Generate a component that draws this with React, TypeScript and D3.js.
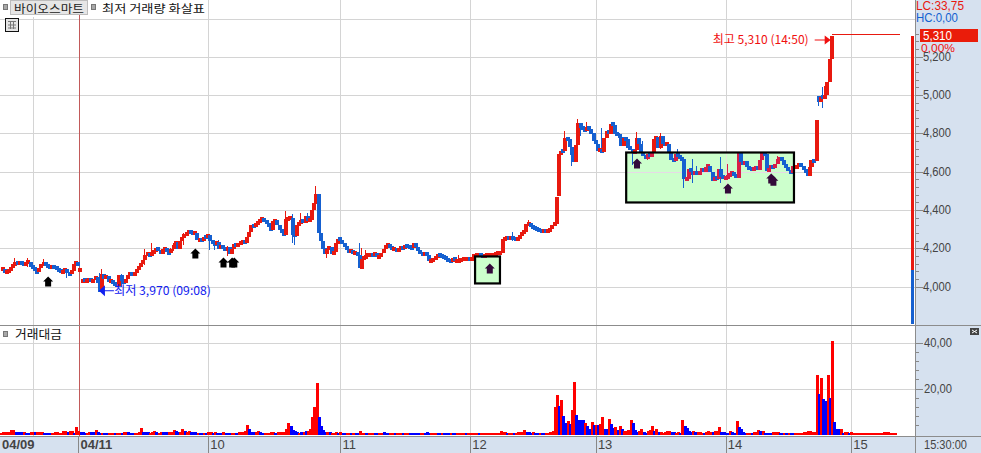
import React from "react";
import * as d3 from "d3";

const W = 981, H = 453;

// closing prices, one list per trading day
const closes0904 = [
  4090,4075,4080,4085,4100,4115,4125,4120,4125,4120,4110,4125,4130,4105,4100,4080,4075,4095,4115,4120,
  4110,4105,4100,4105,4100,4090,4085,4075,4080,4090,4070,4065,4085,4120,4125,4110];
const closes1104 = [
  4084,4040,4030,4030,4040,4025,4035,4050,4020,3975,4065,4040,4055,4025,4035,4015,4010,4005,4060,4030,
  4020,4040,4060,4075,4060,4070,4090,4100,4120,4140,4165,4170,4160,4180,4185,4200,4190,4170,4195,4200,
  4180,4175,4198,4215,4235,4200,4240,4255,4270,4280,4290,4280,4275,4280,4245,4245,4240,4260,4255,4270];
const closesDay10 = [
  4240,4225,4220,4235,4200,4210,4205,4190,4205,4170,4195,4220,4210,4225,4225,4235,4230,4260,4285,4320,
  4315,4325,4335,4350,4355,4345,4330,4310,4295,4340,4345,4320,4295,4280,4270,4355,4355,4360,4270,4265,
  4320,4330,4345,4335,4370,4345,4350,4400,4435,4485,4280,4240,4200,4170,4195,4205,4170,4180,4225,4250,4245];
const closesDay11 = [
  4225,4205,4195,4180,4190,4170,4175,4165,4095,4145,4150,4160,4165,4165,4160,4175,4155,4155,4175,4195,
  4215,4215,4205,4195,4195,4190,4195,4205,4195,4215,4210,4205,4200,4225,4205,4190,4175,4165,4170,4165,
  4135,4135,4140,4155,4165,4160,4155,4150,4145,4135,4130,4150,4135,4135,4135,4145,4145,4145,4145,4140];
const closesDay12 = [
  4150,4165,4165,4165,4160,4155,4160,4165,4165,4165,4165,4170,4175,4175,4250,4250,4260,4250,4255,4250,
  4245,4250,4265,4280,4285,4325,4325,4315,4310,4305,4300,4295,4290,4290,4285,4295,4300,4320,4330,4470,
  4690,4710,4705,4775,4770,4730,4690,4650,4740,4855,4830,4825,4815,4830,4825,4800,4760,4745];
const closesDay13 = [
  4710,4715,4700,4775,4810,4800,4850,4845,4800,4790,4780,4735,4775,4770,4725,4720,4700,4710,4775,4745,
  4700,4685,4665,4690,4680,4695,4770,4780,4720,4785,4745,4740,4745,4700,4665,4655,4690,4685,4670,4665,
  4560,4565,4615,4600,4590,4600,4590,4600,4620,4600,4625,4630,4600,4555,4570,4565,4615,4575,4565,4570];
const closesDay14 = [
  4575,4590,4600,4580,4570,4700,4655,4640,4655,4625,4615,4610,4615,4625,4610,4660,4695,4690,4600,4620,
  4625,4620,4640,4665,4670,4660,4635,4625,4605,4595,4630,4620,4625,4640,4630,4610,4595,4580,4625,4660,
  4655,4870,4965,4990,4985,5000,5070,5190,5310];
const closesLimitUp = [
  5310,5310,5310,5310,5310,5310,5310,5310,5310,5310,5310,5310,5310,5310,5310,5310,
  5310,5310,5310,5310,5310,5310,5310,5310,5310,5310,5310,5310,5310,5310,5310];
const closes = [...closes0904, ...closes1104, ...closesDay10, ...closesDay11, ...closesDay12, ...closesDay13, ...closesDay14, ...closesLimitUp];

// opening gaps: candle index and its open (all others open at the previous close)
const gapIndex = [36, 37, 377];
const gapOpen = [4084, 4020, 4995];

// wicks: candle index, high, low
const wickIndex = [6,12,19,30,45,46,55,66,69,78,79,84,96,98,100,104,131,134,135,138,141,145,150,165,166,168,198,211,236,243,260,263,266,267,270,277,282,285,291,293,296,298,304,312,315,317,319,321,332,335,358,373,377,379,380,383];
const wickHigh = [4150,4150,4145,4095,4070,4090,4065,4195,4225,4200,4225,4280,4260,4230,4245,4210,4397,4380,4318,4385,4385,4527,4195,4225,4200,4190,4135,4165,4285,4345,4810,4690,4877,4830,4860,4830,4860,4800,4700,4805,4760,4690,4800,4720,4665,4615,4665,4630,4675,4640,4680,4660,4995,5040,5045,5310];
const wickLow = [4115,4100,4105,4047,3970,4020,4000,4110,4160,4165,4185,4215,4190,4190,4195,4160,4270,4225,4215,4330,4335,4480,4151,4095,4125,4140,4125,4135,4240,4315,4770,4630,4825,4785,4815,4700,4800,4735,4635,4710,4685,4660,4720,4685,4517,4553,4540,4590,4540,4570,4665,4580,4945,4935,4985,5165];

// traded value; negative = blue bar, positive = red bar
const vol0904 = [.4,.7,.7,.8,.8,1.8,1.8,-.7,-.7,-.7,-.7,.7,-.4,-.4,.7,.7,-.7,.9,.9,.9,-.3,-.4,-.4,-.4,.4,.9,.9,.3,.3,1.3,1.3,-.9,1.3,1.3,-.4,3];
const vol1104 = [
  1.3,-1,-.9,-.4,.3,.7,-.7,-.7,1.6,-1,-.4,.4,-.4,-.4,.4,.4,.4,-.3,.4,.4,
  -.3,.9,.9,-.7,-.4,-.3,.3,.3,.9,2.6,-.9,-.9,-.9,.3,.9,1.3,-.7,.4,.7,-.7,
  -.7,-.7,.9,1,1.6,-1.2,-.7,1,2.3,-1.4,.9,1.2,-.9,-.7,-.7,.4,-.3,-.4,.3,-.3];
const volDay10 = [
  .9,.9,-.5,.7,-.3,-.3,-.3,.7,-.4,-.4,-.4,.3,.4,-.3,.7,.7,.7,1.3,3.9,-2.2,
  -.7,-.7,.7,1.5,-.9,-.4,.5,.4,.4,.7,.7,-.5,.7,.7,.7,.7,2.1,4.8,-3.4,-1.7,
  -1.3,-.9,.4,-1,.7,-1.5,1.5,2.1,7.4,11.8,22.4,-7.6,-3.7,-1.9,-1,1,-.7,.5,.4,.7,-.4];
const volDay11 = [
  .7,-.4,-.3,.6,.4,-.3,.5,-.6,-.5,1.2,.6,.4,-.3,.3,.5,.4,-.3,-.3,.5,.6,
  -.7,-.5,-.3,.4,.4,-.3,.3,.5,.5,-.4,.3,.4,-.3,-.5,-.6,-.4,-.3,.4,.4,-.3,
  -.7,-.4,.4,.5,.4,-.3,-.3,.3,-.3,-.3,-.3,.3,-.3,-.3,.3,.3,.3,.3,-.3,.3];
const volDay12 = [
  .4,.3,.4,.3,-.3,.3,.3,.3,.3,.4,.3,.4,.4,.3,1.4,.8,1,-.6,.6,.5,
  -.4,.6,.9,1,.7,1.6,-1,-.7,-.4,.7,-.5,-.5,.5,-.4,-.4,.5,.5,.7,1.2,11.8,
  17,-12.5,15,-8,-5,5.6,-4.5,10.7,23,-8.5,-6.3,-6,-6,4.9,-3.4,-2,5.4,-3.8];
const volDay13 = [
  4,-3.8,4.6,7.5,-2.4,-2,6.8,-4.6,-2.6,3,-1.6,3.7,-2.2,1.5,1.5,1.9,6.3,-4.9,-1.9,-.9,
  1.2,2.4,-.9,-.6,1.2,1.8,3.7,-1.5,2.4,-.7,1,.5,.7,1.2,1.5,-1,-1,.4,.9,-.5,
  6.3,-3.7,-2.6,-1.5,-.7,1.5,-.7,1,1,.4,-.6,.7,1.5,.9,-1,1.5,1.5,3.2,-1,-1];
const volDay14 = [
  -.6,-.4,1.5,-1,-.5,5.9,-3.2,-2.4,-1,-.6,.6,.6,-.3,.7,.7,1.9,-1.5,1.4,-.6,-.6,
  -.6,-.3,.7,.7,1,-.6,-.6,.6,-.5,.5,-.6,-.6,.3,.6,.6,.6,1,1,1.5,1.5,
  1,1,26,-17.8,24.8,-15.6,-14.7,26,-16,40.7];
const volLimitUp = [-5.4,-2.4,-2.4,2.4,-.5,1,.7,-.5,1,.4,.4,.3,.3,.6,.4,.3,.3,.6,.4,.3,.5,.3,.3,.7,.7,.7,.3,.3,.6];
const volumes = [...vol0904, ...vol1104, ...volDay10, ...volDay11, ...volDay12, ...volDay13, ...volDay14, ...volLimitUp];

const gridIndex = [15, 36, 96, 157, 217, 275, 335, 393];
const dateIndex = [0, 36, 96, 157, 217, 275, 335, 393];
const dateLabels = ["04/09", "04/11", "10", "11", "12", "13", "14", "15"];
const priceLabels = [4000, 4200, 4400, 4600, 4800, 5000, 5200];
const priceGrid = [4000, 4200, 4400, 4600, 4800, 5000, 5200, 5400];
const volumeLabels = [20, 40];
const rangeBar = [5310, 4084, 3802];

// arrows: candle index, price
const arrowIndex = [22, 90, 103, 107, 108, 226, 294, 336, 356, 357];
const arrowPrice = [4026, 4172, 4125, 4125, 4125, 4094, 4642, 4512, 4564, 4553];
// highlighted boxes: index range, price range
const boxIndex = [[219.2, 230.7], [289, 366.5]];
const boxPrice = [[4157, 4016], [4700, 4439]];

const RED = "#E8190F", BLUE = "#1560D0", GRID = "#D4D4D4", PANEL = "#D6E1EF", LINE = "#8C8C8C";
const KR = "'Noto Sans CJK KR', sans-serif";
const NUM = "'Liberation Sans', sans-serif";

const x = d3.scaleLinear().domain([0, 100]).range([0.5, 217]);
const y = d3.scaleLinear().domain([4000, 5400]).range([286.5, 18.5]);
const yv = d3.scaleLinear().domain([0, 40]).range([434, 343]);

const gaps = new Map(gapIndex.map((g, i) => [g, gapOpen[i]]));
const opens = closes.map((c, i) => gaps.get(i) ?? (i === 0 ? c : closes[i - 1]));

function Candles({ red, blue }: { red: string; blue: string }) {
  return (
    <g>
      {wickIndex.map((w, i) => {
        const up = closes[w] >= opens[w];
        return <line key={i} x1={Math.round(x(w)) + 1.5} x2={Math.round(x(w)) + 1.5} y1={y(wickHigh[i])} y2={y(wickLow[i])} stroke={up ? red : blue} strokeWidth={1} />;
      })}
      {closes.map((c, i) => {
        const o = opens[i];
        const top = Math.min(y(c), y(o));
        const raw = Math.abs(y(c) - y(o));
        const flat = c === o && c === 5310;
        const h = flat ? 1 : Math.max(4, Math.round(raw));
        const yTop = raw < 4 ? Math.round(top + raw / 2 - 2) : Math.round(top);
        return <rect key={i} x={Math.round(x(i))} y={yTop} width={flat ? 3 : 4} height={h} fill={c >= o ? red : blue} />;
      })}
    </g>
  );
}

function Arrow({ cx, cy, fill }: { cx: number; cy: number; fill: string }) {
  const p = d3.path();
  p.moveTo(cx, cy - 5); p.lineTo(cx + 5, cy); p.lineTo(cx + 3, cy); p.lineTo(cx + 3, cy + 5);
  p.lineTo(cx - 3, cy + 5); p.lineTo(cx - 3, cy); p.lineTo(cx - 5, cy); p.closePath();
  return <path d={p.toString()} fill={fill} />;
}

function HeadIcon({ px, py }: { px: number; py: number }) {
  return <rect x={px + 0.5} y={py + 0.5} width={4} height={5} fill="#A8A8A8" stroke="#777" />;
}

export default function App() {
  const boxes = boxIndex.map((b, i) => ({
    x: x(b[0]), y: y(boxPrice[i][0]), w: x(b[1]) - x(b[0]), h: y(boxPrice[i][1]) - y(boxPrice[i][0]),
  }));
  const minorPrice = d3.range(4000, 5321, 40);
  const minorVol = d3.range(4, 41, 4);
  const hiX = x(closes.indexOf(5310));
  const loX = x(45);
  const bars = volumes.map((v, i) => ({ v, i }));
  return (
    <svg width={W} height={H} style={{ position: "absolute", left: 0, top: 0, background: "#fff" }} fontFamily={NUM}>
      <defs>
        <clipPath id="boxes">
          {boxes.map((b, i) => <rect key={i} x={b.x} y={b.y} width={b.w} height={b.h} />)}
        </clipPath>
      </defs>

      {/* grid */}
      <g shapeRendering="crispEdges">
        {priceGrid.map(p => <line key={p} x1={0} x2={915} y1={Math.round(y(p)) + 0.5} y2={Math.round(y(p)) + 0.5} stroke={GRID} />)}
        {volumeLabels.map(v => <line key={v} x1={0} x2={915} y1={Math.round(yv(v)) + 0.5} y2={Math.round(yv(v)) + 0.5} stroke={GRID} />)}
        {gridIndex.map(g => g === 36 ? null : <line key={g} x1={Math.round(x(g)) + 0.5} x2={Math.round(x(g)) + 0.5} y1={g === 15 ? 17 : 0} y2={436} stroke={GRID} />)}
        <line x1={79.5} x2={79.5} y1={15} y2={436} stroke="#C25A5A" />
      </g>

      {/* highlighted boxes, underlay */}
      {boxes.map((b, i) => <rect key={i} x={b.x} y={b.y} width={b.w} height={b.h} fill="#CCFFCC" />)}
      <g clipPath="url(#boxes)" shapeRendering="crispEdges">
        {priceGrid.map(p => <line key={p} x1={0} x2={915} y1={Math.round(y(p)) + 0.5} y2={Math.round(y(p)) + 0.5} stroke="#E6DAE6" />)}
        {gridIndex.map(g => <line key={g} x1={Math.round(x(g)) + 0.5} x2={Math.round(x(g)) + 0.5} y1={0} y2={325} stroke="#E6E6DA" />)}
      </g>

      {/* candles */}
      <g shapeRendering="crispEdges">
        <Candles red={RED} blue={BLUE} />
        <g clipPath="url(#boxes)"><Candles red="#D81E46" blue={BLUE} /></g>
      </g>

      {/* arrows */}
      {arrowIndex.map((a, i) => (
        <Arrow key={i} cx={x(a)} cy={y(arrowPrice[i])} fill={i >= 5 ? "#330A3A" : "#000"} />
      ))}
      {boxes.map((b, i) => <rect key={i} x={b.x} y={b.y} width={b.w} height={b.h} fill="none" stroke="#000" strokeWidth={2.2} />)}

      {/* range bar */}
      <g shapeRendering="crispEdges">
        <rect x={911} y={y(rangeBar[0])} width={3} height={y(rangeBar[1]) - y(rangeBar[0])} fill={RED} />
        <rect x={911} y={y(rangeBar[1])} width={3} height={y(rangeBar[2]) - y(rangeBar[1])} fill={BLUE} />
      </g>

      {/* high annotation */}
      <text x={hiX - 117} y={43.5} fontFamily={KR} fontSize={12} fill="#F01010" textLength={96} lengthAdjust="spacingAndGlyphs">최고 5,310 (14:50)</text>
      <line x1={hiX - 15} x2={hiX - 2} y1={40} y2={40} stroke="#F01010" strokeWidth={1} />
      <path d={`M${hiX + 1},40 l-6,-4.5 v9 z`} fill="#F01010" />

      {/* low annotation */}
      <line x1={loX + 1} x2={loX + 16} y1={y(3970) - 1.5} y2={y(3970) - 1.5} stroke="#1020F0" strokeWidth={1} />
      <path d={`M${loX + 1},${y(3970) - 1.5} l6,-5.5 v11 z`} fill="#1020F0" />
      <text x={loX + 16} y={295} fontFamily={KR} fontSize={12} fill="#1020F0" textLength={97} lengthAdjust="spacingAndGlyphs">최저 3,970 (09:08)</text>

      {/* volume bars: drawn in order so neighbours stay visible */}
      <g shapeRendering="crispEdges">
        {bars.map(({ v, i }) => {
          const top = yv(Math.abs(v));
          return <rect key={i} x={Math.round(x(i)) - 1} y={top} width={3} height={Math.max(1, 434.5 - top)} fill={v > 0 ? "#FF0000" : "#0000FF"} />;
        })}
      </g>

      {/* headers */}
      <g>
        <rect x={0} y={0} width={205} height={15} fill="#fff" />
        <HeadIcon px={3} py={4} />
        <rect x={10.5} y={0.5} width={77} height={14} fill="#E6E6E6" stroke="#BDBDBD" />
        <text x={14} y={13.4} fontFamily={KR} fontSize={11.5} fill="#222" textLength={70} lengthAdjust="spacingAndGlyphs">바이오스마트</text>
        <HeadIcon px={91} py={4} />
        <text x={102} y={13.4} fontFamily={KR} fontSize={11.5} fill="#111" textLength={103} lengthAdjust="spacingAndGlyphs">최저 거래량 화살표</text>
        <rect x={5.5} y={18.5} width={13} height={13} fill="#E4E4E4" stroke="#111" />
        <path d="M8,21.5H16M8,25H16M8,28H16M10.5,21V29M13.5,21V29" stroke="#777" fill="none" />
        <HeadIcon px={3} py={331} />
        <text x={15} y={339} fontFamily={KR} fontSize={12.5} fill="#111" textLength={47} lengthAdjust="spacingAndGlyphs">거래대금</text>
      </g>

      {/* right and bottom panels */}
      <g shapeRendering="crispEdges">
        <rect x={915} y={0} width={66} height={H} fill={PANEL} />
        <rect x={0} y={436} width={W} height={17} fill={PANEL} />
        <line x1={915.5} x2={915.5} y1={0} y2={H} stroke={LINE} />
        <line x1={0} x2={W} y1={436.5} y2={436.5} stroke={LINE} />
        <line x1={0} x2={W} y1={325.5} y2={325.5} stroke={LINE} />
        {minorPrice.map(p => (
          <line key={p} x1={916} x2={p % 200 === 0 ? 923 : 919} y1={Math.round(y(p)) + 0.5} y2={Math.round(y(p)) + 0.5} stroke="#888" />
        ))}
        {minorVol.map(v => (
          <line key={v} x1={916} x2={v % 20 === 0 ? 923 : 919} y1={Math.round(yv(v)) + 0.5} y2={Math.round(yv(v)) + 0.5} stroke="#888" />
        ))}
        {dateIndex.slice(1).map(d => <line key={d} x1={Math.round(x(d)) + 0.5} x2={Math.round(x(d)) + 0.5} y1={437} y2={H} stroke="#888" />)}
      </g>

      {priceLabels.map(p => (
        <text key={p} x={923} y={y(p) + 4} fontSize={12} fill="#444" textLength={28} lengthAdjust="spacingAndGlyphs">{d3.format(",")(p)}</text>
      ))}
      {volumeLabels.map(v => (
        <text key={v} x={924} y={yv(v) + 4} fontSize={12} fill="#444" textLength={28} lengthAdjust="spacingAndGlyphs">{`${v},00`}</text>
      ))}
      <text x={924} y={449} fontSize={13} fill="#444" textLength={43} lengthAdjust="spacingAndGlyphs">15:30:00</text>
      {dateLabels.map((d, i) => (
        <text key={d} x={i === 0 ? 2 : x(dateIndex[i]) + 2} y={449} fontSize={13} fontWeight={i < 2 ? 700 : 400} fill="#444">{d}</text>
      ))}

      {/* top right read-outs */}
      <text x={916} y={10} fontSize={12} fill="#E8190F" textLength={48} lengthAdjust="spacingAndGlyphs">LC:33,75</text>
      <text x={916} y={22} fontSize={12} fill="#1060D0" textLength={42} lengthAdjust="spacingAndGlyphs">HC:0,00</text>
      <rect x={920} y={29} width={58} height={13} fill="#EA1C0A" />
      <text x={923} y={40} fontSize={12} fill="#fff" textLength={29} lengthAdjust="spacingAndGlyphs">5,310</text>
      <rect x={920} y={42} width={40} height={10} fill={PANEL} />
      <text x={921} y={51.5} fontSize={11.5} fill="#F01010" textLength={34} lengthAdjust="spacingAndGlyphs">0,00%</text>

      {/* close-pane icon */}
      <rect x={970} y={328} width={9} height={7} fill="#444" />
      <path d="M972,330L977,333M977,330L972,333" stroke="#fff" strokeWidth={1} />
    </svg>
  );
}
